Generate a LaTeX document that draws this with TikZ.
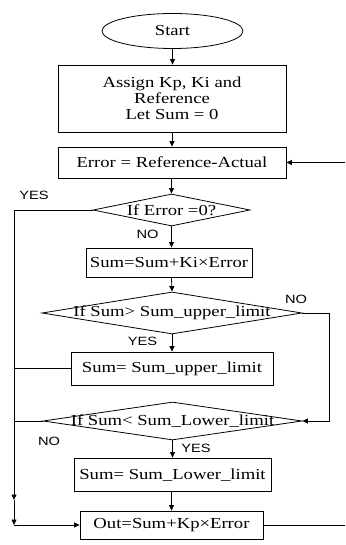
\documentclass[tikz,border=0pt]{standalone}
\usepackage{fontspec}
\setmainfont[FakeStretch=1.22]{Liberation Serif}
\newfontfamily\labfont[FakeStretch=1.22]{Liberation Sans}
\usetikzlibrary{shapes.geometric,arrows.meta}
\begin{document}
\begin{tikzpicture}[x=1pt,y=-1pt,
  every node/.style={font=\fontsize{15.3}{16}\selectfont},
  box/.style={draw, rectangle, line width=0.8pt, inner sep=0pt, align=center},
  dia/.style={draw, diamond, line width=0.8pt, inner sep=0pt},
  dtext/.style={inner sep=0pt},
  lab/.style={font=\labfont\fontsize{12}{12}\selectfont, inner sep=0pt},
  conn/.style={line width=0.8pt},
  arr/.style={conn, -{Triangle[length=5.5pt,width=5pt]}}]
\useasboundingbox (0,0) rectangle (345,545);
% nodes
\node[draw, ellipse, line width=0.8pt, minimum width=141pt, minimum height=35pt, inner sep=0pt] (start) at (172.5,31) {Start};
\node[box, minimum width=228pt, minimum height=67pt] (init) at (172,98.5) {Assign Kp, Ki and\\Reference\\Let Sum = 0};
\node[box, minimum width=228pt, minimum height=31pt] (err) at (172,162.5) {Error = Reference-Actual};
\node[dia, minimum width=157pt, minimum height=32pt] (d1) at (171.5,210) {};
\node[dtext] (d1t) at (d1) {If Error =0?};
\node[box, minimum width=166pt, minimum height=29.5pt] (sum) at (169,262.75) {Sum=Sum+Ki×Error};
\node[dia, minimum width=260pt, minimum height=42pt] (d2) at (172,313) {};
\node[dtext] (d2t) at (d2) {If Sum> Sum\_upper\_limit};
\node[box, minimum width=202pt, minimum height=33pt] (up) at (172,368.5) {Sum= Sum\_upper\_limit};
\node[dia, minimum width=259pt, minimum height=38pt] (d3) at (172.5,421) {};
\node[dtext] (d3t) at (d3) {If Sum< Sum\_Lower\_limit};
\node[box, minimum width=197pt, minimum height=33.5pt] (low) at (172.5,474.75) {Sum= Sum\_Lower\_limit};
\node[box, minimum width=183pt, minimum height=28pt] (out) at (171.5,525) {Out=Sum+Kp×Error};
% labels
\node[lab] (yes1) at (34,195.5) {YES};
\node[lab] (no1) at (147.5,234) {NO};
\node[lab] (no2) at (296,299.5) {NO};
\node[lab] (yes2) at (142.5,341.5) {YES};
\node[lab] (no3) at (49,441) {NO};
\node[lab] (yes3) at (196,448.5) {YES};
% coordinates
\coordinate (L1) at (14,210);
\coordinate (L2) at (14,500);
\coordinate (L3) at (14,525);
\coordinate (R1) at (329,313);
\coordinate (R2) at (329,421);
\coordinate (Rin) at (345,162.5);
\coordinate (Rout) at (345,525);
% connectors
\draw[arr] (start.south) -- (start.south |- init.north);
\draw[arr] (init.south) -- (init.south |- err.north);
\draw[arr] (Rin) -- (err.east);
\draw[arr] (err.south -| d1.north) -- (d1.north);
\draw[arr] (d1.south) -- (d1.south |- sum.north);
\draw[arr] (d1.south |- sum.south) -- (d2.north);
\draw[arr] (d2.south) -- (d2.south |- up.north);
\draw[arr] (d2.east) -- (R1) -- (R2) -- (d3.east);
\draw[arr] (d3.south) -- (d3.south |- low.north);
\draw[arr] (low.south -| out.north) -- (out.north);
\draw[arr] (d1.west) -- (L1) -- (L2);
\draw[arr] (L2) -- (L3);
\draw[arr] (L3) -- (out.west);
\draw[conn] (up.west) -- (up.west -| L1);
\draw[conn] (d3.west) -- (d3.west -| L1);
\draw[conn] (out.east) -- (Rout);
\end{tikzpicture}
\end{document}
